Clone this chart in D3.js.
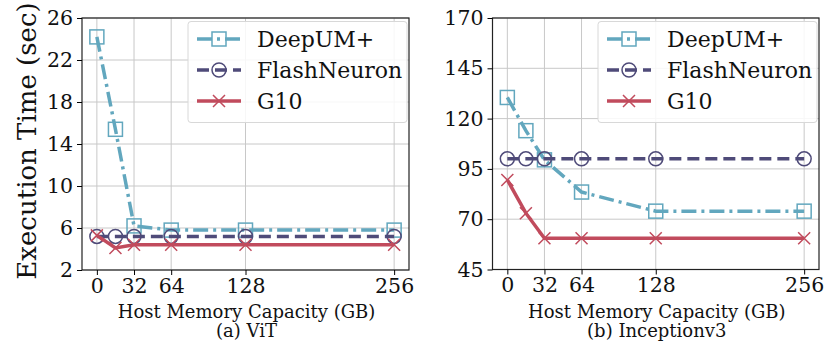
<!DOCTYPE html>
<html>
<head>
<meta charset="utf-8">
<script src="https://cdn.jsdelivr.net/npm/d3@7"></script>
<style>
  body { margin: 0; background: #fff; }
  svg text { fill: #111; }
</style>
</head>
<body>
<div id="chart"></div>
<script>
const xs = [0, 16, 32, 64, 128, 256];
const xTicks = [0, 32, 64, 128, 256];

const vitDeepUM = [24.2, 15.4, 6.2, 5.8, 5.8, 5.8];
const vitFlash  = [5.2, 5.2, 5.2, 5.2, 5.2, 5.2];
const vitG10    = [5.3, 4.1, 4.4, 4.4, 4.4, 4.4];
const vitTicks  = [2, 6, 10, 14, 18, 22, 26];

const incDeepUM = [130.5, 114, 99.5, 83.5, 74, 74];
const incFlash  = [100, 100, 100, 100, 100, 100];
const incG10    = [89.5, 73, 60.5, 60.5, 60.5, 60.5];
const incTicks  = [45, 70, 95, 120, 145, 170];

const seriesNames = ['DeepUM+', 'FlashNeuron', 'G10'];
const colors = { 'DeepUM+': '#62a7be', 'FlashNeuron': '#4f4b79', 'G10': '#c14b5d' };
const dashes = { 'DeepUM+': '15,5,3,5', 'FlashNeuron': '12,6', 'G10': null };
const markers = { 'DeepUM+': 'square', 'FlashNeuron': 'circle', 'G10': 'x' };

const SERIF = '"DejaVu Serif", serif';
const W = 830, H = 345;
const svg = d3.select('#chart').append('svg').attr('width', W).attr('height', H);

function drawMarker(g, type, x, y, c) {
  if (type === 'square') {
    g.append('rect').attr('x', x - 7).attr('y', y - 7).attr('width', 14).attr('height', 14)
      .attr('fill', 'none').attr('stroke', c).attr('stroke-width', 1.5);
  } else if (type === 'circle') {
    g.append('circle').attr('cx', x).attr('cy', y).attr('r', 7)
      .attr('fill', 'none').attr('stroke', c).attr('stroke-width', 1.5);
  } else {
    g.append('path').attr('d', `M${x-6},${y-6}L${x+6},${y+6}M${x-6},${y+6}L${x+6},${y-6}`)
      .attr('stroke', c).attr('stroke-width', 1.5).attr('fill', 'none');
  }
}

function panel(opts) {
  const { left, right, top, bottom, yTicks, data, caption, ylabel } = opts;
  const x = d3.scaleLinear().domain([-12.8, 268.8]).range([left, right]);
  const y = d3.scaleLinear().domain([yTicks[0], yTicks[yTicks.length - 1]]).range([bottom, top]);
  const g = svg.append('g');

  // grid
  g.append('g').selectAll('line.v').data(xTicks).enter().append('line')
    .attr('x1', d => x(d)).attr('x2', d => x(d)).attr('y1', top).attr('y2', bottom)
    .attr('stroke', '#c8c8c8').attr('stroke-width', 1);
  g.append('g').selectAll('line.h').data(yTicks).enter().append('line')
    .attr('x1', left).attr('x2', right).attr('y1', d => y(d)).attr('y2', d => y(d))
    .attr('stroke', '#c8c8c8').attr('stroke-width', 1);

  // series
  seriesNames.forEach(name => {
    const vals = data[name];
    const line = d3.line().x((d, i) => x(xs[i])).y(d => y(d));
    g.append('path').datum(vals).attr('d', line)
      .attr('fill', 'none').attr('stroke', colors[name]).attr('stroke-width', 3.5)
      .attr('stroke-dasharray', dashes[name]);
    vals.forEach((v, i) => drawMarker(g, markers[name], x(xs[i]), y(v), colors[name]));
  });

  // frame
  g.append('rect').attr('x', left).attr('y', top).attr('width', right - left).attr('height', bottom - top)
    .attr('fill', 'none').attr('stroke', '#222').attr('stroke-width', 1.2);

  // axes
  const xa = g.append('g').attr('transform', `translate(0,${bottom})`)
    .call(d3.axisBottom(x).tickValues(xTicks).tickSize(5).tickPadding(3));
  xa.select('.domain').remove();
  xa.selectAll('text').style('font-size', '20.5px').style('font-family', SERIF);
  const ya = g.append('g').attr('transform', `translate(${left},0)`)
    .call(d3.axisLeft(y).tickValues(yTicks).tickSize(5).tickPadding(4));
  ya.select('.domain').remove();
  ya.selectAll('text').style('font-size', '20.5px').style('font-family', SERIF);

  g.append('text').attr('x', (left + right) / 2 + 1).attr('y', 318).attr('text-anchor', 'middle')
    .style('font-size', '18px').style('font-family', SERIF).text('Host Memory Capacity (GB)');
  g.append('text').attr('x', (left + right) / 2 + 1).attr('y', 337).attr('text-anchor', 'middle')
    .style('font-size', '18px').style('font-family', SERIF).text(caption);

  if (ylabel) {
    g.append('text').attr('transform', `translate(36,${(top + bottom) / 2 - 3}) rotate(-90)`)
      .attr('text-anchor', 'middle').style('font-size', '26px').style('font-family', SERIF).text(ylabel);
  }

  // legend
  const lx = right - 221, ly = top + 3.5;
  const lg = g.append('g');
  lg.append('rect').attr('x', lx).attr('y', ly).attr('width', 219).attr('height', 101).attr('rx', 3)
    .attr('fill', 'rgba(255,255,255,0.85)').attr('stroke', '#d8d8d8');
  seriesNames.forEach((name, i) => {
    const cy = ly + 17.5 + i * 31;
    lg.append('line').attr('x1', lx + 9).attr('x2', lx + 53).attr('y1', cy).attr('y2', cy)
      .attr('stroke', colors[name]).attr('stroke-width', 3.5).attr('stroke-dasharray', dashes[name]);
    drawMarker(lg, markers[name], lx + 31, cy, colors[name]);
    lg.append('text').attr('x', lx + 69).attr('y', cy + 8).style('font-size', '22px')
      .style('font-family', SERIF).text(name);
  });
}

panel({
  left: 82, right: 409, top: 18, bottom: 270, yTicks: vitTicks,
  data: { 'DeepUM+': vitDeepUM, 'FlashNeuron': vitFlash, 'G10': vitG10 },
  caption: '(a) ViT', ylabel: 'Execution Time (sec)'
});
panel({
  left: 492.5, right: 819, top: 18, bottom: 269.5, yTicks: incTicks,
  data: { 'DeepUM+': incDeepUM, 'FlashNeuron': incFlash, 'G10': incG10 },
  caption: '(b) Inceptionv3'
});
</script>
</body>
</html>
